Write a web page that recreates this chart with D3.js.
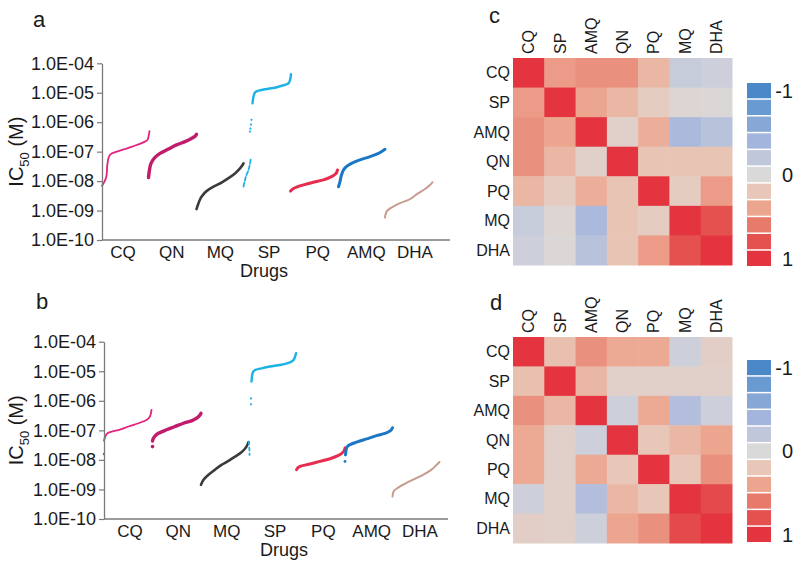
<!DOCTYPE html>
<html><head><meta charset="utf-8">
<script src="https://cdn.jsdelivr.net/npm/d3@7"></script>
<style>
body{margin:0;background:#fff}
text{font-family:"Liberation Sans",Arial,Helvetica,sans-serif;fill:#1a1a1a}
</style>
</head><body>
<svg id="chart" width="800" height="574"></svg>
<script>
// ---------- scatter categories ----------
const drugs = ["CQ","QN","MQ","SP","PQ","AMQ","DHA"];
const drugColors = {CQ:"#e3237f",QN:"#c01c6c",MQ:"#3a3a3a",SP:"#1db2e4",PQ:"#e62d4e",AMQ:"#1c76c6",DHA:"#c69c8e"};
const drugWidths = {CQ:1.8,QN:3.4,MQ:2.6,SP:2.4,PQ:3.0,AMQ:3.0,DHA:2.0};
const yTickValues = [1e-10,1e-9,1e-8,1e-7,1e-6,1e-5,1e-4];
const yTickLabels = ["1.0E-10","1.0E-09","1.0E-08","1.0E-07","1.0E-06","1.0E-05","1.0E-04"];

// ---------- panel a : [isolate rank, log10 IC50 (M)] ----------
const aCQ  = [[0,-8.16],[5,-8.02],[9,-7.82],[11,-7.40],[14,-7.17],[19,-7.06],[33,-6.98],[46,-6.91],[59,-6.84],[73,-6.75],[86,-6.66],[91,-6.60],[93,-6.49],[95,-6.30]];
const aQN  = [[93,-7.88],[95,-7.62],[98,-7.40],[105,-7.21],[116,-7.06],[133,-6.91],[149,-6.77],[166,-6.66],[179,-6.55],[185,-6.49],[189,-6.41]];
const aMQ  = [[189,-8.95],[193,-8.75],[199,-8.53],[209,-8.34],[223,-8.19],[239,-8.05],[253,-7.90],[266,-7.74],[276,-7.57],[283,-7.40]];
const aSPlow = [[283,-8.19],[286,-7.96],[289,-7.79],[293,-7.62],[296,-7.40],[298,-7.21]];
const aSPmid = [[296,-6.32],[297,-6.22],[298,-6.08],[299,-5.92]];
const aSPup  = [[301,-5.36],[303,-5.13],[306,-4.99],[313,-4.93],[326,-4.88],[346,-4.83],[356,-4.78],[373,-4.68],[376,-4.57],[378,-4.37]];
const aPQ  = [[377,-8.34],[383,-8.25],[403,-8.13],[423,-8.04],[443,-7.96],[459,-7.85],[468,-7.74],[471,-7.62]];
const aAMQ = [[473,-8.19],[476,-8.02],[479,-7.79],[486,-7.55],[499,-7.40],[516,-7.28],[536,-7.17],[553,-7.06],[561,-6.98],[566,-6.92]];
const aDHA = [[566,-9.24],[569,-9.04],[579,-8.90],[596,-8.75],[613,-8.64],[629,-8.45],[646,-8.27],[656,-8.13],[661,-8.04]];

// ---------- panel b ----------
const bCQ  = [[0,-7.35],[5,-7.13],[12,-7.06],[29,-6.99],[49,-6.87],[69,-6.76],[85,-6.65],[92,-6.53],[95,-6.31]];
const bCQout = [[0,-7.80]];
const bQN  = [[97,-7.36],[101,-7.21],[109,-7.10],[125,-6.98],[142,-6.87],[159,-6.76],[175,-6.68],[185,-6.59],[192,-6.48],[194,-6.42]];
const bQNout = [[97,-7.55]];
const bMQ  = [[194,-8.84],[199,-8.67],[209,-8.50],[222,-8.33],[235,-8.17],[249,-8.03],[262,-7.89],[275,-7.74],[285,-7.55],[289,-7.40]];
const bSPlow = [[290,-7.38],[290,-7.48],[291,-7.70],[291,-7.83]];
const bSPmid = [[294,-5.92],[294,-6.12]];
const bSPup  = [[295,-5.35],[297,-5.07],[302,-4.96],[315,-4.90],[332,-4.84],[352,-4.79],[372,-4.70],[379,-4.62],[384,-4.39]];
const bPQ  = [[385,-8.33],[392,-8.22],[412,-8.14],[432,-8.05],[452,-7.96],[469,-7.85],[479,-7.72],[482,-7.60]];
const bAMQ = [[483,-7.83],[485,-7.60],[489,-7.51],[505,-7.40],[525,-7.29],[545,-7.18],[562,-7.10],[572,-7.02],[577,-6.91]];
const bAMQout = [[482,-8.05]];
const bDHA = [[577,-9.24],[579,-9.07],[589,-8.93],[605,-8.78],[622,-8.64],[639,-8.50],[655,-8.33],[665,-8.17],[671,-8.07]];

// ---------- correlation heatmaps ----------
const hmDrugs = ["CQ","SP","AMQ","QN","PQ","MQ","DHA"];
const corrC = [
  [1.00, 0.45, 0.50, 0.50, 0.30,-0.15,-0.10],
  [0.45, 1.00, 0.40, 0.30, 0.15, 0.05, 0.02],
  [0.50, 0.40, 1.00, 0.10, 0.35,-0.35,-0.25],
  [0.50, 0.30, 0.10, 1.00, 0.22, 0.22, 0.22],
  [0.30, 0.15, 0.35, 0.22, 1.00, 0.15, 0.45],
  [-0.15,0.05,-0.35, 0.22, 0.15, 1.00, 0.80],
  [-0.10,0.02,-0.25, 0.22, 0.45, 0.80, 1.00]];
const corrD = [
  [1.00, 0.25, 0.50, 0.38, 0.38,-0.10, 0.12],
  [0.25, 1.00, 0.30, 0.10, 0.10, 0.10, 0.10],
  [0.50, 0.30, 1.00,-0.10, 0.38,-0.30,-0.10],
  [0.38, 0.10,-0.10, 1.00, 0.20, 0.30, 0.40],
  [0.38, 0.10, 0.38, 0.20, 1.00, 0.20, 0.50],
  [-0.10,0.10,-0.30, 0.30, 0.20, 1.00, 0.85],
  [0.12, 0.10,-0.10, 0.40, 0.50, 0.85, 1.00]];
const legendStops  = [-1,-0.8,-0.6,-0.4,-0.2,0,0.2,0.4,0.6,0.8,1];
const legendColors = ["#4a88c8","#6a9ad2","#87a7d6","#a3b4dd","#c0c7da","#d9d9d9","#e8c7b9","#eca690","#e87a6c","#e4514f","#e3343f"];
const legendLabels = [{v:-1,t:"-1"},{v:0,t:"0"},{v:1,t:"1"}];

const svg = d3.select("#chart");
const axisColor = "#7a7a7a";

function drawScatter(cfg){
  const g = svg.append("g");
  const x = d3.scaleLinear().domain(cfg.xDomain).range(cfg.xRange);
  const y = d3.scaleLog().domain([1e-10,1e-4]).range(cfg.yRange);
  const line = d3.line().x(d=>x(d[0])).y(d=>y(Math.pow(10,d[1]))).curve(d3.curveMonotoneY);
  const lineL = d3.line().x(d=>x(d[0])).y(d=>y(Math.pow(10,d[1])));
  cfg.series.forEach(s=>{
    if(s.type==="line"){
      g.append("path").attr("d", (s.straight?lineL:line)(s.data))
        .attr("fill","none").attr("stroke",drugColors[s.drug])
        .attr("stroke-width",s.w||drugWidths[s.drug])
        .attr("stroke-linecap","round").attr("stroke-linejoin","round")
        .attr("stroke-dasharray",s.dash||null);
    } else {
      g.selectAll(null).data(s.data).join("circle")
        .attr("cx",d=>x(d[0])).attr("cy",d=>y(Math.pow(10,d[1])))
        .attr("r",s.r||1.2).attr("fill",drugColors[s.drug]);
    }
  });
  // y axis
  const ya = g.append("g").attr("transform",`translate(${cfg.xRange[0]},0)`)
    .call(d3.axisLeft(y).tickValues(yTickValues).tickFormat((d,i)=>yTickLabels[i]).tickSize(5).tickSizeOuter(0).tickPadding(3));
  ya.select(".domain").attr("stroke",axisColor).attr("stroke-width",1.3);
  ya.selectAll(".tick line").attr("stroke",axisColor).attr("stroke-width",1.2);
  ya.selectAll(".tick text").style("font-size","18px").attr("fill","#1a1a1a").style("font-family","Liberation Sans, Arial, sans-serif");
  // x axis line
  g.append("line").attr("x1",cfg.xRange[0]).attr("x2",cfg.xRange[1])
    .attr("y1",cfg.yRange[0]).attr("y2",cfg.yRange[0])
    .attr("stroke",axisColor).attr("stroke-width",1.3);
  // category labels
  const xp = d3.scalePoint().domain(drugs).range(cfg.labelRange);
  g.selectAll(null).data(drugs).join("text")
    .attr("x",d=>xp(d)).attr("y",cfg.yRange[0]+18).attr("text-anchor","middle")
    .style("font-size","17px").text(d=>d);
  g.append("text").attr("x",cfg.titleX).attr("y",cfg.yRange[0]+37).attr("text-anchor","middle")
    .style("font-size","18px").text("Drugs");
  // y title
  const yt = g.append("text").attr("transform",`translate(${cfg.yTitleX},${(cfg.yRange[0]+cfg.yRange[1])/2}) rotate(-90)`)
    .attr("text-anchor","middle").style("font-size","20px");
  yt.append("tspan").text("IC");
  yt.append("tspan").attr("dy","6").style("font-size","13px").text("50");
  yt.append("tspan").attr("dy","-6").text(" (M)");
  // panel letter
  g.append("text").attr("x",cfg.letterX).attr("y",cfg.letterY).style("font-size","22px").text(cfg.letter);
}

function seriesFor(p){
  return p;
}

drawScatter({
  letter:"a", letterX:33, letterY:27,
  xDomain:[0,696], xRange:[102,450], yRange:[240,63.3], labelRange:[123,415], titleX:264, yTitleX:23,
  series:[
    {type:"line",drug:"CQ",data:aCQ},
    {type:"line",drug:"QN",data:aQN},
    {type:"line",drug:"MQ",data:aMQ},
    {type:"line",drug:"SP",data:aSPlow,dash:"4,2",w:1.8},
    {type:"dot",drug:"SP",data:aSPmid,r:1.1},
    {type:"line",drug:"SP",data:aSPup},
    {type:"line",drug:"PQ",data:aPQ},
    {type:"line",drug:"AMQ",data:aAMQ},
    {type:"line",drug:"DHA",data:aDHA}
  ]
});
drawScatter({
  letter:"b", letterX:36, letterY:309,
  xDomain:[0,688], xRange:[104,448], yRange:[519,341.7], labelRange:[130,420], titleX:284, yTitleX:23,
  series:[
    {type:"line",drug:"CQ",data:bCQ},
    {type:"dot",drug:"CQ",data:bCQout,r:1.2},
    {type:"line",drug:"QN",data:bQN},
    {type:"dot",drug:"QN",data:bQNout,r:1.8},
    {type:"line",drug:"MQ",data:bMQ},
    {type:"line",drug:"SP",data:bSPlow,dash:"3,3",w:1.8,straight:true},
    {type:"dot",drug:"SP",data:bSPmid,r:1.1},
    {type:"line",drug:"SP",data:bSPup},
    {type:"line",drug:"PQ",data:bPQ},
    {type:"line",drug:"AMQ",data:bAMQ},
    {type:"dot",drug:"AMQ",data:bAMQout,r:1.4},
    {type:"line",drug:"DHA",data:bDHA}
  ]
});

const colorScale = d3.scaleLinear().domain(legendStops).range(legendColors).interpolate(d3.interpolateRgb).clamp(true);

function drawHeatmap(cfg){
  const g = svg.append("g");
  const x = d3.scaleBand().domain(hmDrugs).range(cfg.xRange);
  const y = d3.scaleBand().domain(hmDrugs).range(cfg.yRange);
  const cells = [];
  cfg.matrix.forEach((row,i)=>row.forEach((v,j)=>cells.push({r:hmDrugs[i],c:hmDrugs[j],v})));
  g.selectAll(null).data(cells).join("rect")
    .attr("x",d=>x(d.c)).attr("y",d=>y(d.r))
    .attr("width",x.bandwidth()+0.5).attr("height",y.bandwidth()+0.5)
    .attr("fill",d=>colorScale(d.v));
  g.selectAll(null).data(hmDrugs).join("text")
    .attr("transform",d=>`translate(${x(d)+x.bandwidth()/2},${cfg.yRange[0]-4}) rotate(-90)`)
    .attr("dy","0.35em").style("font-size","16px").text(d=>d);
  g.selectAll(null).data(hmDrugs).join("text")
    .attr("x",cfg.xRange[0]-3).attr("y",d=>y(d)+y.bandwidth()/2)
    .attr("dy","0.35em").attr("text-anchor","end").style("font-size","16px").text(d=>d);
  // legend
  const ly = d3.scaleBand().domain(legendStops).range(cfg.legendY).paddingInner(0.09);
  g.selectAll(null).data(legendStops).join("rect")
    .attr("x",747).attr("width",24)
    .attr("y",d=>ly(d)).attr("height",ly.bandwidth())
    .attr("fill",(d,i)=>legendColors[i]);
  g.selectAll(null).data(legendLabels).join("text")
    .attr("x",793).attr("y",d=>ly(d.v)+ly.bandwidth()/2).attr("dy","0.36em")
    .attr("text-anchor","end").style("font-size","20px").text(d=>d.t);
  g.append("text").attr("x",cfg.letterX).attr("y",cfg.letterY).style("font-size","22px").text(cfg.letter);
}

drawHeatmap({matrix:corrC, xRange:[513,732], yRange:[58,265], legendY:[83,266], letter:"c", letterX:489, letterY:23});
drawHeatmap({matrix:corrD, xRange:[513,732], yRange:[337,543], legendY:[360,542], letter:"d", letterX:490, letterY:310});
</script>
</body></html>
